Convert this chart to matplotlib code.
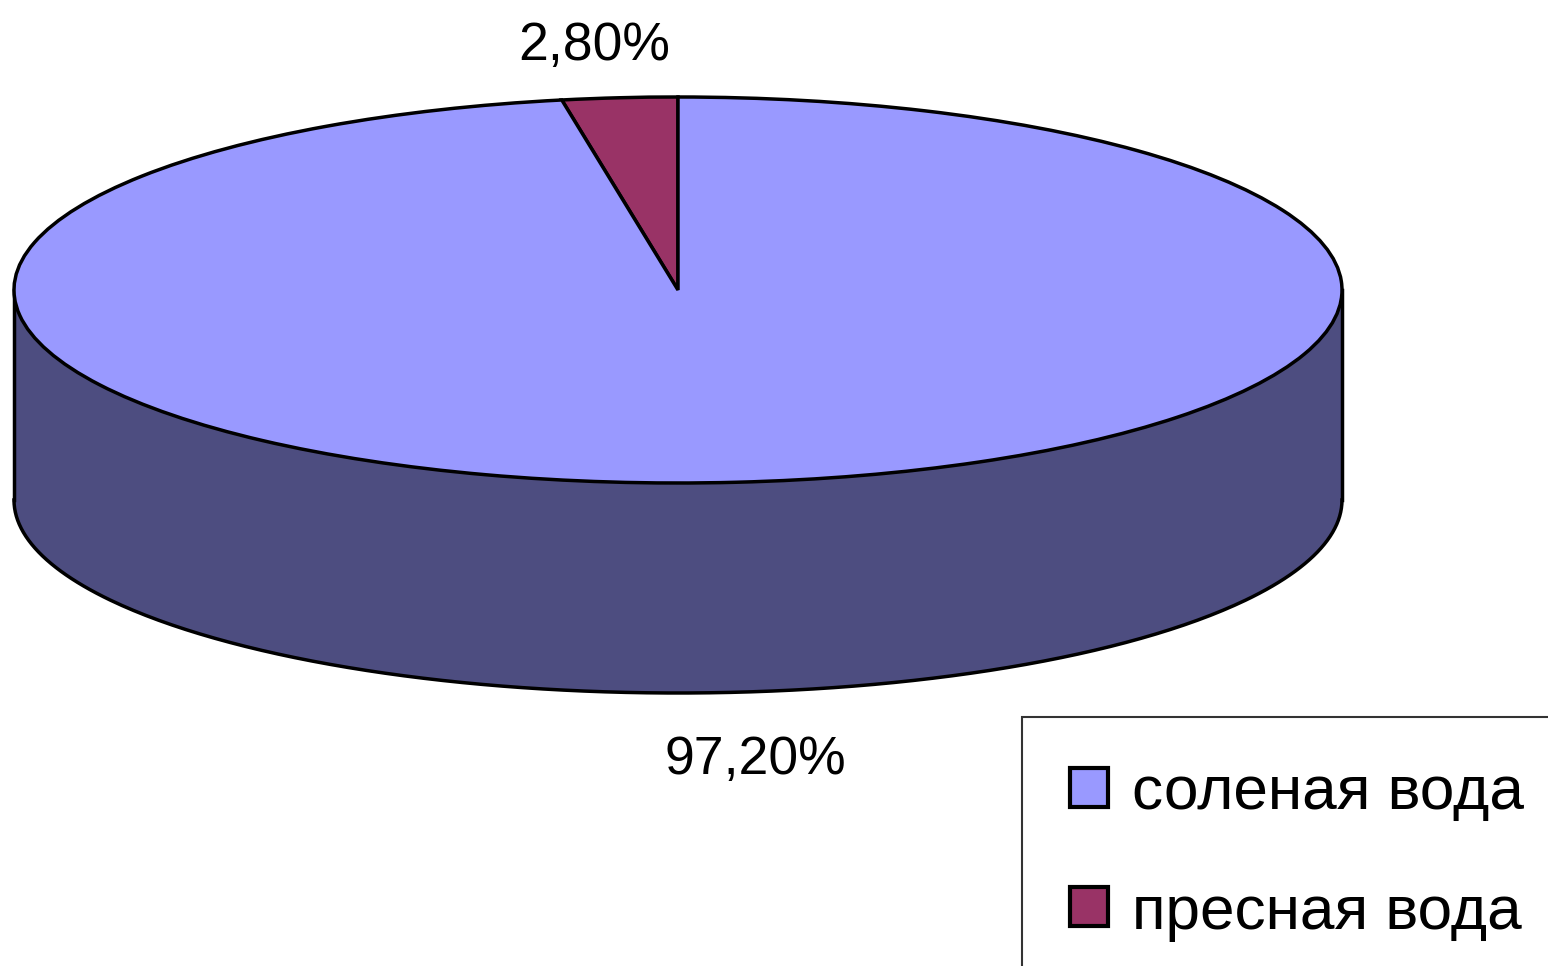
import numpy as np
import matplotlib
matplotlib.use("Agg")
import matplotlib.pyplot as plt

labels = ["соленая вода", "пресная вода"]
values = [97.2, 2.8]
value_labels = ["97,20%", "2,80%"]
colors = ["#9999FF", "#993366"]
side_color = "#4D4D80"

W, H = 1548, 966
CX, CY, RX, RY, DEPTH = 678, 290, 664, 193, 210
LW = 2.5

plt.rcParams["font.family"] = ["Liberation Sans", "DejaVu Sans"]

fig = plt.figure(figsize=(W / 100, H / 100), dpi=100, facecolor="white")
ax = fig.add_axes([0, 0, 1, 1])

# side of the disc, in a unit circle squashed by the axes limits
d = DEPTH / RY
t = np.linspace(np.pi, 2 * np.pi, 300)
ax.fill_between(np.cos(t), np.sin(t), np.sin(t) - d, color=side_color, lw=0, zorder=1)
ax.plot(np.cos(t), np.sin(t) - d, color="black", lw=LW, zorder=2)
ax.plot([-1, -1], [0, -d], color="black", lw=LW, zorder=2)
ax.plot([1, 1], [0, -d], color="black", lw=LW, zorder=2)

# top of the disc
wedges, _ = ax.pie(
    values[::-1], colors=colors[::-1], startangle=90, radius=1,
    wedgeprops=dict(edgecolor="black", linewidth=LW, zorder=3),
)

ax.set_aspect("auto")
ax.set_xlim((0 - CX) / RX, (W - CX) / RX)
ax.set_ylim((CY - H) / RY, (CY - 0) / RY)
ax.axis("off")

fig.text(755 / W, 1 - 760 / H, value_labels[0], fontsize=38.5, ha="center", va="center", color="black")
fig.text(594 / W, 1 - 46 / H, value_labels[1], fontsize=38.5, ha="center", va="center", color="black")

# legend runs off the right and bottom edges, like the reference
leg = fig.legend(
    wedges[::-1], labels, loc="upper left", bbox_to_anchor=(1022 / W, 1 - 717 / H),
    borderaxespad=0, fontsize=44.7, frameon=True, fancybox=False, edgecolor="black",
    handlelength=0.6, handleheight=0.6, handletextpad=0.39, labelspacing=1.0,
    borderpad=0.78,
)
leg.get_frame().set_linewidth(1.5)
for h in leg.legend_handles:
    h.set_linewidth(3)

fig.savefig("out.png", dpi=100)
